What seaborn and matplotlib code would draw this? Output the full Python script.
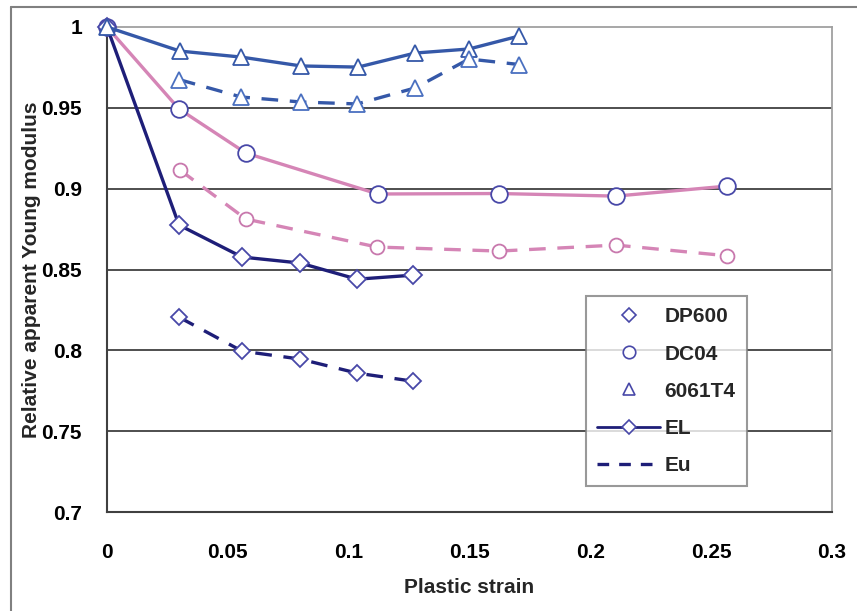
import numpy as np
import pandas as pd
import seaborn as sns
import matplotlib
matplotlib.use("Agg")
import matplotlib.pyplot as plt
from matplotlib.lines import Line2D
from matplotlib import font_manager

# ---- data ----
dp_el_x = [0, 0.0298, 0.0559, 0.0799, 0.1035, 0.1266]
dp_el_y = [1.0, 0.8775, 0.8577, 0.8540, 0.8440, 0.8465]
dp_eu_x = [0.0298, 0.0559, 0.0799, 0.1035, 0.1266]
dp_eu_y = [0.8205, 0.7995, 0.7946, 0.7859, 0.7809]

dc_el_x = [0, 0.0298, 0.0575, 0.1121, 0.1622, 0.2106, 0.2566]
dc_el_y = [1.0, 0.9493, 0.9220, 0.8967, 0.8970, 0.8954, 0.9016]
dc_eu_x = [0.0302, 0.0575, 0.1117, 0.1622, 0.2106, 0.2566]
dc_eu_y = [0.9115, 0.8812, 0.8639, 0.8614, 0.8651, 0.8585]

al_el_x = [0, 0.0302, 0.0555, 0.0803, 0.1039, 0.1275, 0.1498, 0.1705]
al_el_y = [1.0, 0.9851, 0.9814, 0.9759, 0.9752, 0.9839, 0.9864, 0.9944]
al_eu_x = [0.0298, 0.0555, 0.0803, 0.1035, 0.1275, 0.1498, 0.1705]
al_eu_y = [0.9675, 0.9567, 0.9536, 0.9524, 0.9623, 0.9802, 0.9768]

x_ticks = [0, 0.05, 0.1, 0.15, 0.2, 0.25, 0.3]
x_tick_labels = ["0", "0.05", "0.1", "0.15", "0.2", "0.25", "0.3"]
y_ticks = [0.7, 0.75, 0.8, 0.85, 0.9, 0.95, 1.0]
y_tick_labels = ["0.7", "0.75", "0.8", "0.85", "0.9", "0.95", "1"]
legend_labels = ["DP600", "DC04", "6061T4", "EL", "Eu"]

sns.set_style("white")
avail = {f.name for f in font_manager.fontManager.ttflist}
fam = [f for f in ["Liberation Sans Narrow", "Liberation Sans", "DejaVu Sans"] if f in avail]
plt.rcParams["font.family"] = fam
plt.rcParams["font.weight"] = "bold"

fig = plt.figure(figsize=(8.57, 6.11), dpi=100)
ax = fig.add_axes([107/857, 1-512/611, (832-107)/857, (512-27)/611])

navy = "#1e1e78"
blue = "#3558a8"
pink = "#d585b6"
medge = "#4848a8"
pedge = "#c878ad"
dash = (0, (5, 3.5))

def draw(x, y, color, marker, ms, mec, ls):
    df = pd.DataFrame({"x": x, "y": y})
    sns.lineplot(data=df, x="x", y="y", ax=ax, sort=False, color=color,
                 linewidth=2.4, linestyle=ls, marker=marker, markersize=ms,
                 markerfacecolor="white", markeredgecolor=mec,
                 markeredgewidth=1.3, zorder=3, legend=False, clip_on=False)

draw(dc_el_x, dc_el_y, pink, "o", 12, medge, "-")
draw(dc_eu_x, dc_eu_y, pink, "o", 10, pedge, dash)
draw(dp_el_x, dp_el_y, navy, "D", 9, medge, "-")
draw(dp_eu_x, dp_eu_y, navy, "D", 8, medge, dash)
draw(al_el_x, al_el_y, blue, "^", 11, blue, "-")
draw(al_eu_x, al_eu_y, blue, "^", 11, "#4a70c0", dash)

ax.set_xlim(0, 0.3)
ax.set_ylim(0.7, 1.0)
ax.set_xticks(x_ticks)
ax.set_xticklabels(x_tick_labels)
ax.set_yticks(y_ticks)
ax.set_yticklabels(y_tick_labels)
for yv in y_ticks[1:-1]:
    ax.axhline(yv, color="#404040", lw=1.3, zorder=1)

for s in ["top", "right"]:
    ax.spines[s].set_color("#a0a0a0")
    ax.spines[s].set_linewidth(1.3)
ax.spines["left"].set_color("#404040")
ax.spines["left"].set_linewidth(1.5)
ax.spines["bottom"].set_color("#404040")
ax.spines["bottom"].set_linewidth(1.5)

ax.tick_params(axis="both", which="major", direction="out", length=8,
               width=1.3, color="#404040", labelsize=15, labelcolor="black")
ax.tick_params(axis="x", pad=14)
ax.tick_params(axis="y", pad=10)

ax.set_xlabel("Plastic strain", fontsize=15, fontweight="bold", labelpad=12)
ax.set_ylabel("Relative apparent Young modulus", fontsize=15,
              fontweight="bold", labelpad=0)

handles = [
    Line2D([], [], ls="none", marker="D", ms=7, mfc="white", mec=medge, mew=1.2),
    Line2D([], [], ls="none", marker="o", ms=9, mfc="white", mec=medge, mew=1.2),
    Line2D([], [], ls="none", marker="^", ms=9, mfc="white", mec=medge, mew=1.2),
    Line2D([], [], color=navy, lw=2, marker="D", ms=7, mfc="white", mec=medge, mew=1.2),
    Line2D([], [], color=navy, lw=2.4, ls=(0, (3.5, 3))),
]
leg = ax.legend(handles, legend_labels, loc="upper left",
                bbox_to_anchor=((586-107)/725, (512-296)/485),
                fontsize=15, frameon=True, fancybox=False, shadow=False,
                handlelength=3.0, handletextpad=0.2, labelspacing=0.87,
                borderpad=0.55, borderaxespad=0)
leg.get_frame().set_edgecolor("#808080")
leg.get_frame().set_linewidth(1.5)
for t in leg.get_texts():
    t.set_fontweight("bold")

# outer frame (partially visible)
fig.add_artist(Line2D([11/857, 1], [1-7/611, 1-7/611], color="#808080", lw=1.5,
                      transform=fig.transFigure))
fig.add_artist(Line2D([11/857, 11/857], [0, 1-7/611], color="#808080", lw=1.5,
                      transform=fig.transFigure))

fig.savefig("out.png", dpi=100)
